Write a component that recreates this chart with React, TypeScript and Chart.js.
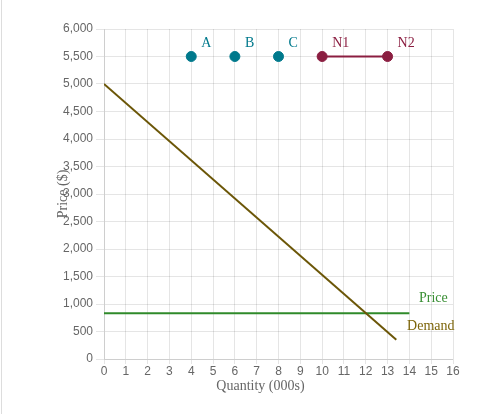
import React, { useEffect, useRef } from "react";
import { Chart, registerables } from "chart.js";

Chart.register(...registerables);

const pointLabels = ["A", "B", "C"];
const pointQty = [4, 6, 8];
const pointPrice = [5500, 5500, 5500];

const nLabels = ["N1", "N2"];
const nQty = [10, 13];
const nPrice = [5500, 5500];

const demandQty = [0, 13.4];
const demandPrice = [5000, 350];

const priceQty = [0, 14];
const priceLevel = [830, 830];

const xTitle = "Quantity (000s)";
const yTitle = "Price ($)";

const TEAL = "#00798c";
const MAROON = "#8b1e41";
const GREEN = "#2f8a2a";
const GREEN_TXT = "#3a8f35";
const OLIVE = "#6b5607";
const OLIVE_TXT = "#7d650a";
const SERIF = "'Liberation Serif', 'Times New Roman', serif";

const toPts = (xs: number[], ys: number[]) => xs.map((x, i) => ({ x, y: ys[i] }));

const labelPlugin = {
  id: "labelPlugin",
  afterDraw(chart: any) {
    const { ctx, scales, chartArea } = chart;
    const xs = scales.x;
    const ys = scales.y;
    ctx.save();
    ctx.font = `14px ${SERIF}`;
    ctx.textBaseline = "middle";
    ctx.textAlign = "left";
    pointLabels.forEach((t, i) => {
      ctx.fillStyle = TEAL;
      ctx.fillText(t, xs.getPixelForValue(pointQty[i]) + 10, ys.getPixelForValue(pointPrice[i]) - 13.5);
    });
    nLabels.forEach((t, i) => {
      ctx.fillStyle = MAROON;
      ctx.fillText(t, xs.getPixelForValue(nQty[i]) + 10, ys.getPixelForValue(nPrice[i]) - 13.5);
    });
    ctx.textAlign = "center";
    ctx.fillStyle = GREEN_TXT;
    ctx.fillText(
      "Price",
      xs.getPixelForValue(priceQty[priceQty.length - 1]) + 24,
      ys.getPixelForValue(priceLevel[priceLevel.length - 1]) - 15
    );
    ctx.fillStyle = OLIVE_TXT;
    ctx.fillText(
      "Demand",
      xs.getPixelForValue(demandQty[demandQty.length - 1]) + 34.5,
      ys.getPixelForValue(demandPrice[demandPrice.length - 1]) - 13.5
    );
    // x axis title
    ctx.fillStyle = "#666";
    ctx.fillText(xTitle, (chartArea.left + chartArea.right) / 2 - 18, chartArea.bottom + 27);
    ctx.restore();
  },
};

export default function App() {
  const ref = useRef<HTMLCanvasElement>(null);
  useEffect(() => {
    if (!ref.current) return;
    const chart = new Chart(ref.current, {
      type: "scatter",
      data: {
        datasets: [
          {
            label: "Demand",
            data: toPts(demandQty, demandPrice),
            showLine: true,
            borderColor: OLIVE,
            borderWidth: 2,
            pointRadius: 0,
          },
          {
            label: "Price",
            data: toPts(priceQty, priceLevel),
            showLine: true,
            borderColor: GREEN,
            borderWidth: 2,
            pointRadius: 0,
          },
          {
            label: "Points",
            data: toPts(pointQty, pointPrice),
            showLine: false,
            backgroundColor: TEAL,
            borderColor: TEAL,
            borderWidth: 1,
            pointRadius: 5,
          },
          {
            label: "N",
            data: toPts(nQty, nPrice),
            showLine: true,
            backgroundColor: MAROON,
            borderColor: MAROON,
            borderWidth: 2,
            pointRadius: 5,
            pointBorderWidth: 1,
          },
        ],
      },
      options: {
        animation: false,
        responsive: true,
        maintainAspectRatio: false,
        layout: { padding: { left: 0, top: 29, right: 51, bottom: 0 } },
        plugins: {
          legend: { display: false },
          tooltip: { enabled: false },
        },
        scales: {
          x: {
            type: "linear",
            min: 0,
            max: 16,
            ticks: { stepSize: 1, color: "#666", font: { size: 12 }, padding: 0 },
            grid: { tickLength: 5 },
            afterFit: (s: any) => {
              s.height = 55;
            },
          },
          y: {
            type: "linear",
            min: 0,
            max: 6000,
            ticks: { stepSize: 500, color: "#666", font: { size: 12 } },
            title: {
              display: true,
              text: yTitle,
              color: "#666",
              font: { family: SERIF, size: 14 },
              padding: { top: 55, bottom: 0 },
            },
            afterFit: (s: any) => {
              s.width = 104;
            },
          },
        },
      },
      plugins: [labelPlugin],
    });
    return () => chart.destroy();
  }, []);
  return (
    <div style={{ position: "fixed", left: 0, top: 0, width: 504, height: 414, background: "#fff" }}>
      <div
        style={{
          position: "absolute",
          left: 1,
          top: 0,
          width: 0,
          height: 414,
          borderLeft: "1px solid #dddddd",
        }}
      />
      <div style={{ position: "absolute", left: 0, top: 0, width: 504, height: 414 }}>
        <canvas ref={ref} />
      </div>
    </div>
  );
}
